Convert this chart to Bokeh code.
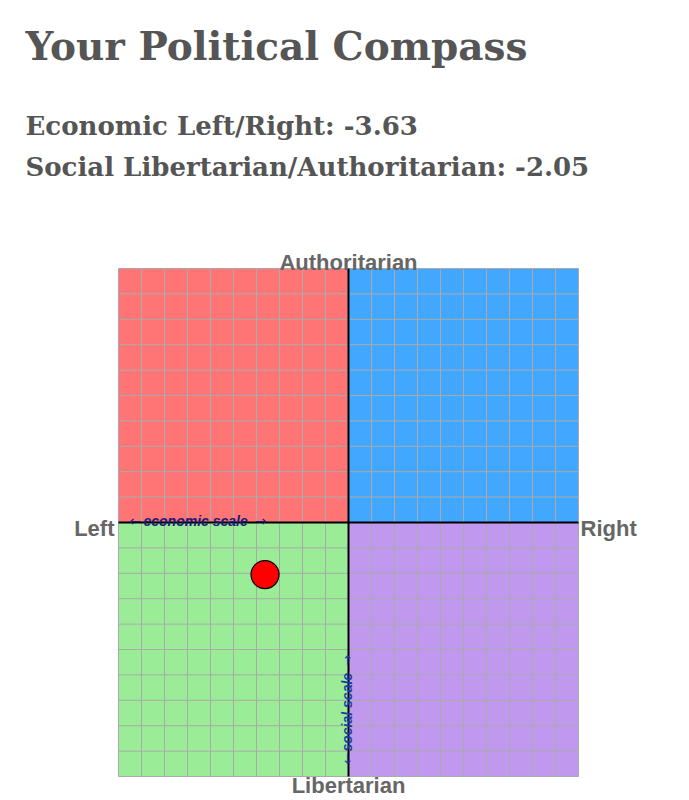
from bokeh.plotting import figure
from bokeh.models import Range1d, Label
from bokeh.embed import file_html
from bokeh.resources import INLINE
import numpy as np

# ---- data ----
title_text = "Your Political Compass"
economic_score = -3.63
social_score = -2.05
score_lines = [f"Economic Left/Right: {economic_score:.2f}",
               f"Social Libertarian/Authoritarian: {social_score:.2f}"]

quad_names = ["Authoritarian Left", "Authoritarian Right", "Libertarian Left", "Libertarian Right"]
quad_left = [-10, 0, -10, 0]
quad_right = [0, 10, 0, 10]
quad_bottom = [0, 0, -10, -10]
quad_top = [10, 10, 0, 0]
quad_colors = ["#FF7575", "#42A8FF", "#9AEC97", "#C098EE"]

grid_ticks = list(range(-10, 11))
axis_labels = {"top": "Authoritarian", "bottom": "Libertarian", "left": "Left", "right": "Right"}
scale_labels = {"economic": "economic scale", "social": "social scale"}
arrow_left, arrow_right = "\u2190", "\u2192"

# ---- geometry (canvas pixels -> data) ----
W, H = 689, 800
FX0, FX1, FY0, FY1 = 118, 578, 268, 776
sx = (FX1 - FX0) / 20.0
sy = (FY1 - FY0) / 20.0
def dx(px): return -10 + (px - FX0) / sx
def dy(py): return 10 - (py - FY0) / sy

p = figure(width=W, height=H, frame_width=W, frame_height=H,
           min_border=0, min_border_left=0, min_border_right=0, min_border_top=0, min_border_bottom=0,
           x_range=Range1d(dx(0), dx(W)), y_range=Range1d(dy(H), dy(0)),
           output_backend="svg", toolbar_location=None,
           x_axis_location=None, y_axis_location=None)
p.xgrid.visible = False
p.ygrid.visible = False
p.outline_line_color = None
p.background_fill_color = "white"
p.border_fill_color = "white"

p.quad(left=quad_left, right=quad_right, bottom=quad_bottom, top=quad_top,
       fill_color=quad_colors, line_color=None)

g = np.array(grid_ticks, dtype=float)
p.segment(x0=g, y0=-10, x1=g, y1=10, line_color="#AAAAAA", line_width=1)
p.segment(x0=-10, y0=g, x1=10, y1=g, line_color="#AAAAAA", line_width=1)
p.segment(x0=[0, -10], y0=[-10, 0], x1=[0, 10], y1=[10, 0], line_color="black", line_width=2)

p.scatter(x=[economic_score], y=[social_score], size=28, fill_color="#FF0000",
          line_color="black", line_width=1.2)

serif = "DejaVu Serif"
sans = "Liberation Sans"
head_kw = dict(text_font=serif, text_font_style="bold", text_color="#555555", text_baseline="alphabetic")
p.add_layout(Label(x=dx(25), y=dy(45), text=title_text, text_font_size="39px", **head_kw))
p.add_layout(Label(x=dx(25), y=dy(125), text=score_lines[0], text_font_size="26px", **head_kw))
p.add_layout(Label(x=dx(25), y=dy(166), text=score_lines[1], text_font_size="26px", **head_kw))

lab_kw = dict(text_font=sans, text_font_style="bold", text_font_size="22px", text_color="#666666")
p.add_layout(Label(x=0, y=dy(262), text=axis_labels["top"], text_align="center",
                   text_baseline="alphabetic", **lab_kw))
p.add_layout(Label(x=0, y=dy(797), text=axis_labels["bottom"], text_align="center",
                   text_baseline="bottom", **lab_kw))
p.add_layout(Label(x=dx(114), y=dy(528), text=axis_labels["left"], text_align="right",
                   text_baseline="alphabetic", **lab_kw))
p.add_layout(Label(x=dx(580), y=dy(528), text=axis_labels["right"], text_align="left",
                   text_baseline="alphabetic", **lab_kw))

# economic scale (horizontal)
eco_col = "#1A1A75"
sc_kw = dict(text_font=sans, text_font_style="bold italic", text_font_size="14px",
             text_baseline="alphabetic")
ar_kw = dict(text_font="DejaVu Sans", text_font_size="14px", text_baseline="alphabetic")
p.add_layout(Label(x=dx(129), y=dy(520), text=arrow_left, text_align="left", text_color=eco_col, **ar_kw))
p.add_layout(Label(x=dx(143), y=dy(520), text=scale_labels["economic"], text_align="left",
                   text_color=eco_col, **sc_kw))
p.add_layout(Label(x=dx(266), y=dy(520), text=arrow_right, text_align="right", text_color=eco_col, **ar_kw))

# social scale (vertical, reading upward)
soc_col = "#1A3DA5"
rot = np.pi / 2
p.add_layout(Label(x=dx(346), y=dy(764), text=arrow_left, text_align="left", angle=rot,
                   text_color=soc_col, **ar_kw))
p.add_layout(Label(x=dx(346), y=dy(751), text=scale_labels["social"], text_align="left", angle=rot,
                   text_color=soc_col, **sc_kw))
p.add_layout(Label(x=dx(346), y=dy(654), text=arrow_right, text_align="right", angle=rot,
                   text_color=soc_col, **ar_kw))

open("out.html", "w").write(file_html(p, INLINE))
